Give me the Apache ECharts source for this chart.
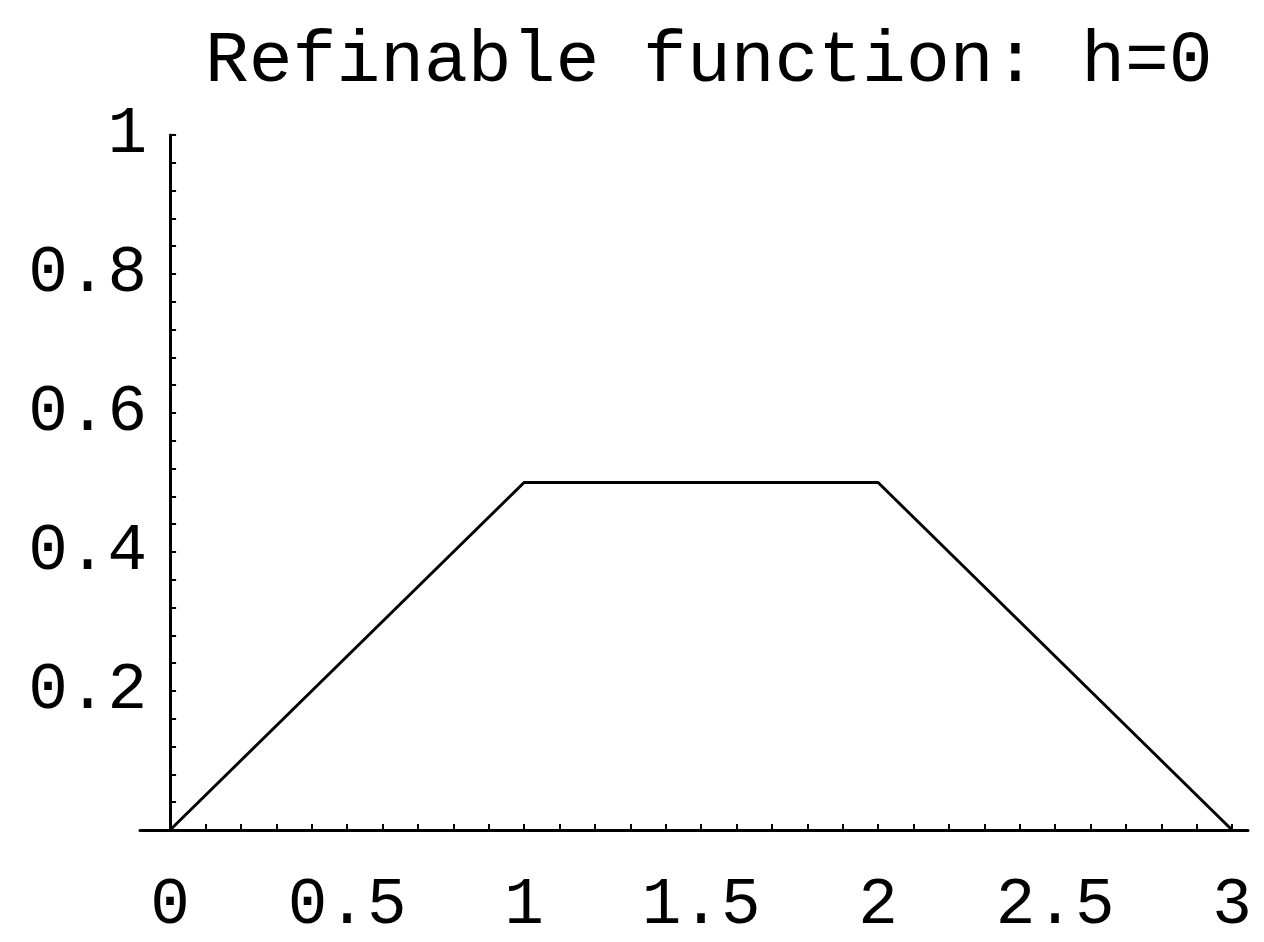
<!DOCTYPE html>
<html>
<head>
<meta charset="utf-8">
<script src="https://cdn.jsdelivr.net/npm/echarts@6/dist/echarts.min.js"></script>
<style>
html,body{margin:0;padding:0;background:#fff;}
#main{width:1264px;height:942px;}
</style>
</head>
<body>
<div id="main"></div>
<script>
// data
var xs = [0, 1, 2, 3];
var ys = [0, 0.5, 0.5, 0];
var xLabels = [0, 0.5, 1, 1.5, 2, 2.5, 3];
var xTicks = [0, 0.1, 0.2, 0.3, 0.4, 0.5, 0.6, 0.7, 0.8, 0.9, 1, 1.1, 1.2, 1.3, 1.4, 1.5, 1.6, 1.7, 1.8, 1.9, 2, 2.1, 2.2, 2.3, 2.4, 2.5, 2.6, 2.7, 2.8, 2.9, 3];
var yLabels = [0.2, 0.4, 0.6, 0.8, 1];
var yTicks = [0.04, 0.08, 0.12, 0.16, 0.2, 0.24, 0.28, 0.32, 0.36, 0.4, 0.44, 0.48, 0.52, 0.56, 0.6, 0.64, 0.68, 0.72, 0.76, 0.8, 0.84, 0.88, 0.92, 0.96, 1];

var font = "'Liberation Mono', 'Courier New', monospace";

var pts = [];
for (var i = 0; i < xs.length; i++) pts.push([xs[i], ys[i]]);

var myChart = echarts.init(document.getElementById('main'));
var option = {
    animation: false,
    backgroundColor: '#fff',
    title: {
        text: 'Refinable function: h=0',
        left: 200,
        top: 20,
        textStyle: {fontFamily: font, fontWeight: 'normal', fontSize: 73, color: '#000'}
    },
    grid: {left: 140, right: 16, top: 135, bottom: 112, containLabel: false, outerBoundsMode: 'none'},
    xAxis: {
        type: 'value',
        min: -0.085,
        max: 3.045,
        splitLine: {show: false},
        axisLine: {onZero: true, lineStyle: {color: '#000', width: 3}},
        axisTick: {inside: true, length: 6, customValues: xTicks, lineStyle: {color: '#000', width: 2}},
        axisLabel: {
            customValues: xLabels,
            margin: 43,
            fontFamily: font, fontSize: 66, color: '#000',
            formatter: function(v){ return String(v); }
        }
    },
    yAxis: {
        type: 'value',
        min: 0,
        max: 1,
        splitLine: {show: false},
        axisLine: {onZero: true, lineStyle: {color: '#000', width: 3}},
        axisTick: {inside: true, length: 6, customValues: yTicks, lineStyle: {color: '#000', width: 2}},
        axisLabel: {
            customValues: yLabels,
            margin: -7,
            fontFamily: font, fontSize: 66, color: '#000',
            formatter: function(v){ return String(v); }
        }
    },
    series: [{
        type: 'line',
        data: pts,
        symbol: 'none',
        lineStyle: {color: '#000', width: 3}
    }]
};
myChart.setOption(option);
</script>
</body>
</html>
